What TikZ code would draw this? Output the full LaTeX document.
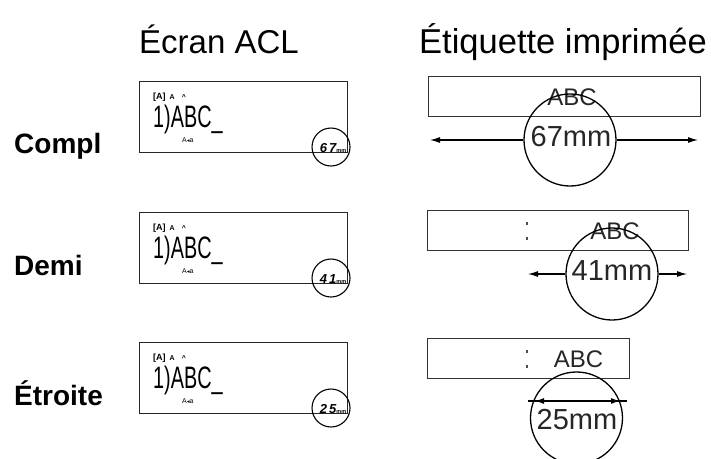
\documentclass[tikz,border=0pt]{standalone}
\usepackage{fontspec}
\setmainfont{Liberation Sans}
\newfontfamily\dvs{DejaVu Sans}
\usetikzlibrary{arrows.meta}
\tikzset{
  hdr/.style={font=\fontsize{33}{33}\selectfont, inner sep=0pt, anchor=base},
  rowlbl/.style={font=\bfseries\fontsize{28}{28}\selectfont, anchor=base west, inner sep=0pt},
  lcdbox/.style={draw=black!85, line width=1.3pt, minimum width=208pt, minimum height=71pt, anchor=north west, inner sep=0pt},
  lblbox/.style={draw=black!80, line width=1.3pt, minimum height=40pt, anchor=north west, inner sep=0pt},
  ring/.style={draw, line width=1.3pt, circle, minimum size=92pt, inner sep=0pt},
  smallring/.style={draw, line width=1.1pt, circle, minimum size=38pt, inner sep=0pt},
  abc/.style={font=\fontsize{24}{24}\selectfont, inner sep=0pt, text=black!85},
  mmtxt/.style={font=\fontsize{29}{29}\selectfont, inner sep=0pt, text=black!85},
  dimline/.style={line width=1.1pt, -{Latex[length=10pt,width=6pt]}},
  dot/.style={fill=black!70, draw=none, minimum width=1.4pt, minimum height=3pt, inner sep=0pt},
  lcdscreen/.pic={
    \node[lcdbox] (-frame) at (0,0) {};
    \node[anchor=base west, inner sep=0pt, font=\bfseries\fontsize{9}{9}\selectfont] (-ind) at (14,18)
      {[A]\hspace{4pt}{\fontsize{7}{7}\selectfont A}\hspace{7pt}{\fontsize{7}{7}\selectfont\textasciicircum}};
    \node[anchor=base west, inner sep=0pt] (-txt) at (14,46)
      {\scalebox{0.64}[1]{\fontsize{31}{31}\selectfont 1)ABC\_}};
    \node[anchor=base west, inner sep=0pt, font=\fontsize{7}{7}\selectfont] (-sub) at (43,61) {A{\dvs\fontsize{5.5}{5.5}\selectfont ◂}a};
    \node[smallring] (-ring) at (192,66) {};
    \node[inner sep=0pt] (-num) at (194,67)
      {{\fontsize{13}{13}\selectfont\bfseries\itshape\tikzpictext}{\fontsize{5.5}{5.5}\selectfont\bfseries mm}};
  },
}
\begin{document}
\begin{tikzpicture}[x=1pt,y=-1pt]
\useasboundingbox (0,0) rectangle (711,458);

% headers
\node[hdr] (h1) at (219,53) {Écran ACL};
\node[hdr, font=\fontsize{34.5}{34.5}\selectfont] (h2) at (563,53) {Étiquette imprimée};

% row labels
\node[rowlbl] (r1) at (14,153) {Compl};
\node[rowlbl] (r2) at (14,275) {Demi};
\node[rowlbl] (r3) at (14,405) {Étroite};

% LCD screens
\pic[pic text={6\,7}] (lcd1) at (139,81) {lcdscreen};
\pic[pic text={4\,1}] (lcd2) at (139,212) {lcdscreen};
\pic[pic text={2\,5}] (lcd3) at (139,342) {lcdscreen};

% ---- row 1 label
\node[lblbox, minimum width=272pt] (lab1) at (428,76) {};
\node[abc] (abc1) at (572,97) {ABC};
\node[ring] (ring1) at (570,140) {};
\node[mmtxt] (mm1) at (571,137) {67mm};
\coordinate (l1) at (430,140);
\coordinate (q1) at (698,140);
\draw[dimline] (ring1.west) -- (l1);
\draw[dimline] (ring1.east) -- (q1);

% ---- row 2 label
\node[lblbox, minimum width=261pt] (lab2) at (427,210) {};
\node[dot] (d2a) at (527,223) {};
\node[dot] (d2b) at (527,238) {};
\node[abc] (abc2) at (615,231) {ABC};
\node[ring] (ring2) at (612,274) {};
\node[mmtxt] (mm2) at (612,271) {41mm};
\coordinate (l2) at (528,274);
\coordinate (q2) at (687,274);
\draw[dimline] (ring2.west) -- (l2);
\draw[dimline] (ring2.east) -- (q2);

% ---- row 3 label
\node[lblbox, minimum width=202pt] (lab3) at (427,338) {};
\node[dot] (d3a) at (527,351) {};
\node[dot] (d3b) at (527,366) {};
\node[abc] (abc3) at (578.5,359) {ABC};
\node[ring] (ring3) at (576.5,418) {};
\node[mmtxt] (mm3) at (577,420) {25mm};
\coordinate (l3) at (528,401);
\coordinate (q3) at (627,401);
\coordinate (tl3) at (535,401);
\coordinate (tr3) at (620,401);
\draw[line width=1.1pt] (l3) -- (q3);
\draw[line width=1.1pt, {Latex[length=9pt,width=6pt]}-{Latex[length=9pt,width=6pt]}] (tl3) -- (tr3);
\end{tikzpicture}
\end{document}
